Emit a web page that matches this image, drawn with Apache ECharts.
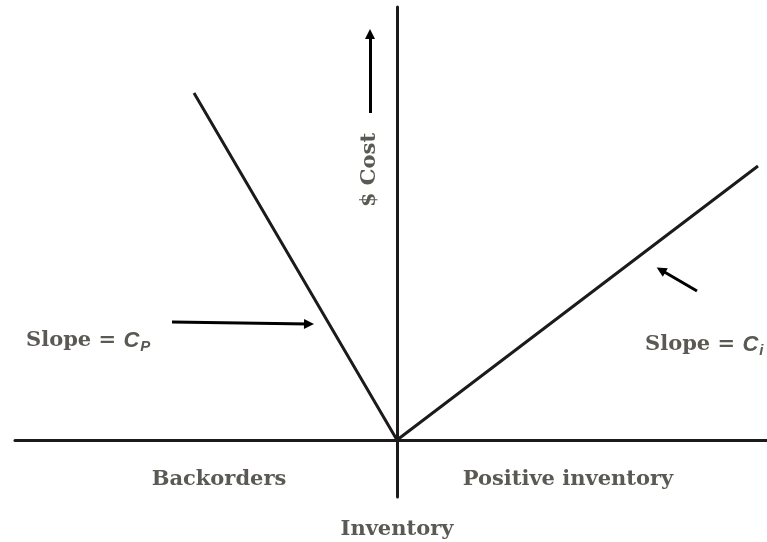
<!DOCTYPE html>
<html>
<head>
<meta charset="utf-8">
<script src="https://cdn.jsdelivr.net/npm/echarts@6/dist/echarts.min.js"></script>
<style>
  html, body { margin: 0; padding: 0; background: #fff; }
  #chart { width: 767px; height: 542px; }
</style>
</head>
<body>
<div id="chart"></div>
<script>
// cost curve: backorder side, origin, positive inventory side (1 unit ~ 1 px)
const costCurve = [[-203, 347], [0, 0], [361, 274]];
// annotation arrows: [from, to]
const arrows = [
  [[-225, 118], [-88, 116]],
  [[300, 149], [264, 170]],
  [[-27, 327], [-27, 406]]
];
const sideLabels = ['Backorders', 'Positive inventory'];
const xName = 'Inventory';
const yName = '$ Cost';

const chart = echarts.init(document.getElementById('chart'));
const ink = '#1c1a1b';
const textGray = '#5a5954';
const font = 'DejaVu Serif';
const fs = 21;

const option = {
  animation: false,
  grid: { left: 15, right: 0, top: 7, bottom: 45, containLabel: false, outerBoundsMode: 'none' },
  xAxis: {
    type: 'value', min: -382, max: 370,
    axisLine: { onZero: true, lineStyle: { color: ink, width: 3 } },
    axisTick: { show: false }, axisLabel: { show: false }, splitLine: { show: false },
    name: xName, nameLocation: 'middle', nameGap: 22,
    nameTextStyle: { fontFamily: font, fontWeight: 'bold', fontSize: fs, color: textGray, padding: [0, 0, 0, 12] }
  },
  yAxis: {
    type: 'value', min: -57, max: 433,
    axisLine: { onZero: true, lineStyle: { color: ink, width: 3 } },
    axisTick: { show: false }, axisLabel: { show: false }, splitLine: { show: false }
  },
  series: [
    {
      type: 'line',
      data: costCurve,
      symbol: 'none',
      lineStyle: { color: ink, width: 3 },
      z: 3
    },
    {
      type: 'lines',
      coordinateSystem: 'cartesian2d',
      symbol: ['none', 'triangle'],
      symbolSize: 10,
      lineStyle: { color: '#000', width: 3, opacity: 1 },
      data: arrows.map(a => ({ coords: a }))
    }
  ],
  graphic: [
    {
      type: 'text', x: 219, y: 480,
      style: { text: sideLabels[0], fontFamily: font, fontWeight: 'bold', fontSize: fs, fill: textGray, align: 'center', verticalAlign: 'middle' }
    },
    {
      type: 'text', x: 568, y: 480,
      style: { text: sideLabels[1], fontFamily: font, fontWeight: 'bold', fontSize: fs, fill: textGray, align: 'center', verticalAlign: 'middle' }
    },
    {
      type: 'text', x: 370, y: 170, rotation: Math.PI / 2,
      style: { text: yName, fontFamily: font, fontWeight: 'bold', fontSize: fs, fill: textGray, align: 'center', verticalAlign: 'middle' }
    },
    {
      type: 'text', x: 26, y: 341,
      style: {
        text: '{t|Slope = }{c|C}{s|P}',
        verticalAlign: 'middle',
        rich: {
          t: { fontFamily: font, fontWeight: 'bold', fontSize: fs, fill: textGray },
          c: { fontFamily: 'Liberation Sans', fontStyle: 'italic', fontWeight: 'bold', fontSize: 22, fill: textGray },
          s: { fontFamily: 'Liberation Sans', fontStyle: 'italic', fontWeight: 'bold', fontSize: 15, fill: textGray, padding: [12, 0, 0, 1] }
        }
      }
    },
    {
      type: 'text', x: 645, y: 345,
      style: {
        text: '{t|Slope = }{c|C}{s|i}',
        verticalAlign: 'middle',
        rich: {
          t: { fontFamily: font, fontWeight: 'bold', fontSize: fs, fill: textGray },
          c: { fontFamily: 'Liberation Sans', fontStyle: 'italic', fontWeight: 'bold', fontSize: 22, fill: textGray },
          s: { fontFamily: 'Liberation Sans', fontStyle: 'italic', fontWeight: 'bold', fontSize: 15, fill: textGray, padding: [12, 0, 0, 1] }
        }
      }
    }
  ]
};
chart.setOption(option);
</script>
</body>
</html>
